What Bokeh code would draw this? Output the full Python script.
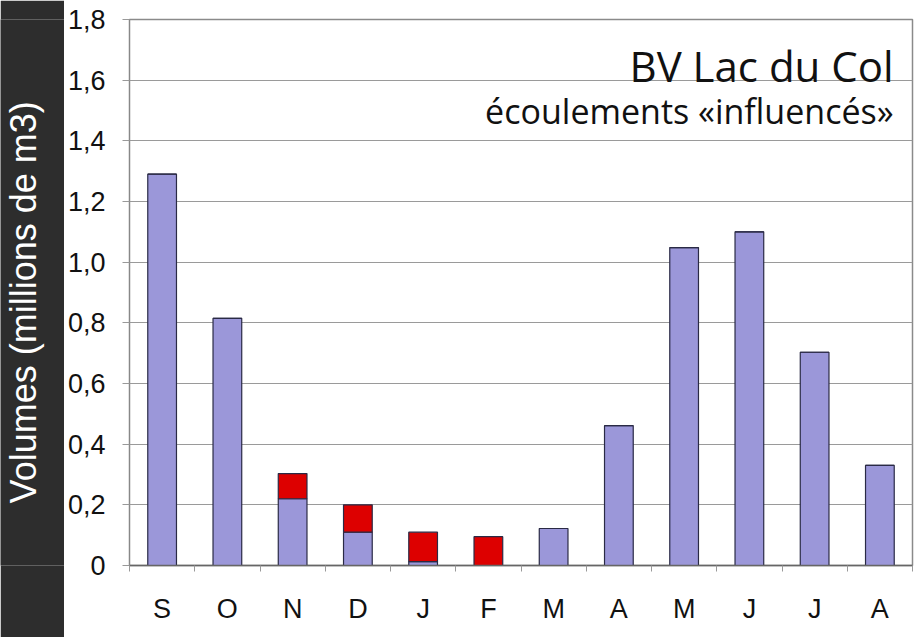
import math
from bokeh.plotting import figure
from bokeh.layouts import row
from bokeh.models import ColumnDataSource, FixedTicker, Label
from bokeh.embed import file_html
from bokeh.resources import INLINE

# ---- data ----
months = ["S", "O", "N", "D", "J", "F", "M", "A", "M", "J", "J", "A"]
natural = [1.29, 0.815, 0.22, 0.11, 0.013, 0.0, 0.122, 0.461, 1.048, 1.10, 0.703, 0.33]
influenced = [0.0, 0.0, 0.083, 0.09, 0.097, 0.095, 0.0, 0.0, 0.0, 0.0, 0.0, 0.0]
y_ticks = [0.0, 0.2, 0.4, 0.6, 0.8, 1.0, 1.2, 1.4, 1.6, 1.8]
y_tick_labels = ["0", "0,2", "0,4", "0,6", "0,8", "1,0", "1,2", "1,4", "1,6", "1,8"]
title_text = "BV Lac du Col"
subtitle_text = "écoulements «influencés»"
y_label_text = "Volumes (millions de m3)"

x_pos = [i + 1 for i in range(len(months))]
boundaries = [i + 0.5 for i in range(len(months) + 1)]

source = ColumnDataSource(dict(x=x_pos, natural=natural, influenced=influenced))

DARK = "#2d2d2d"
BLUE = "#9b97d9"
RED = "#dd0000"

# ---- left dark strip with the y-axis title ----
side = figure(width=64, height=637, x_range=(0, 1), y_range=(0, 1),
              x_axis_type=None, y_axis_type=None,
              output_backend="svg", toolbar_location=None,
              min_border=0, min_border_left=0, min_border_right=0,
              min_border_top=0, min_border_bottom=0,
              background_fill_color=DARK, border_fill_color=DARK)
side.outline_line_color = None
side.grid.visible = False
side.add_layout(Label(x=0.36, y=0.482, text=y_label_text, angle=math.pi / 2,
                      text_align="center", text_baseline="middle",
                      text_font="Liberation Sans", text_font_size="36px",
                      text_color="white"))

# ---- main chart ----
p = figure(width=858, height=637, x_range=(0.5, 12.5), y_range=(0, 1.8),
           output_backend="svg", toolbar_location=None,
           min_border_left=64, min_border_right=10, min_border_top=19,
           min_border_bottom=72, background_fill_color="white",
           border_fill_color="white")

p.outline_line_color = "#8a8a8a"
p.outline_line_width = 1.5

p.vbar_stack(["natural", "influenced"], x="x", width=0.44, source=source,
             color=[BLUE, RED], line_color="#2a2a45", line_width=1.2)

p.xgrid.visible = False
p.ygrid.grid_line_color = "#9a9a9a"
p.ygrid.grid_line_width = 1
p.ygrid.ticker = FixedTicker(ticks=y_ticks)

xa = p.xaxis[0]
xa.ticker = FixedTicker(ticks=x_pos, minor_ticks=boundaries)
xa.major_label_overrides = {x: m for x, m in zip(x_pos, months)}
xa.major_tick_out = 0
xa.major_tick_in = 0
xa.minor_tick_out = 6
xa.minor_tick_in = 0
xa.minor_tick_line_color = "#999999"
xa.axis_line_color = "#666666"
xa.axis_line_width = 1.5
xa.major_label_text_font = "Liberation Sans"
xa.major_label_text_font_size = "27px"
xa.major_label_text_color = "#111111"
xa.major_label_standoff = 22

ya = p.yaxis[0]
ya.ticker = FixedTicker(ticks=y_ticks)
ya.major_label_overrides = dict(zip(y_ticks, y_tick_labels))
ya.major_tick_out = 7
ya.major_tick_in = 0
ya.minor_tick_out = 0
ya.minor_tick_in = 0
ya.major_tick_line_color = "#999999"
ya.axis_line_color = "#888888"
ya.major_label_text_font = "Liberation Sans"
ya.major_label_text_font_size = "27px"
ya.major_label_text_color = "#111111"
ya.major_label_standoff = 17

p.add_layout(Label(x=12.21, y=1.647, text=title_text, text_align="right",
                   text_baseline="alphabetic", text_font="Open Sans",
                   text_font_size="42px", text_color="#111111"))
p.add_layout(Label(x=12.21, y=1.499, text=subtitle_text, text_align="right",
                   text_baseline="alphabetic", text_font="Open Sans",
                   text_font_size="34px", text_color="#111111"))

layout = row(side, p, spacing=0)

open("out.html", "w").write(file_html(layout, INLINE))
